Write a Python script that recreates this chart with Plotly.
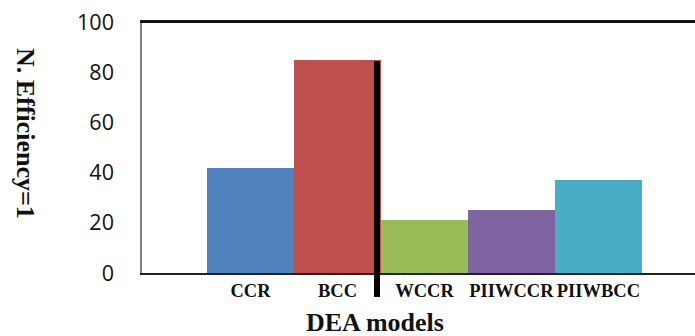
import plotly.graph_objects as go

categories = ["CCR", "BCC", "WCCR", "PIIWCCR", "PIIWBCC"]
values = [42, 85, 21, 25, 37]
colors = ["#4F81BD", "#C0504D", "#9BBB59", "#8064A2", "#4BACC6"]
y_ticks = [0, 20, 40, 60, 80, 100]

fig = go.Figure()
fig.add_trace(go.Bar(
    x=categories, y=values, marker=dict(color=colors, line=dict(width=0)),
    width=1.0, showlegend=False,
))

serif = "Liberation Serif, Times New Roman, serif"
sans = "Open Sans, Liberation Sans, sans-serif"

fig.update_layout(
    width=695, height=336,
    margin=dict(l=142, r=0, t=22, b=63, autoexpand=False),
    paper_bgcolor="white", plot_bgcolor="white",
    bargap=0,
    xaxis=dict(
        range=[-1.247, 5.11], showline=True, linecolor="#222222", linewidth=2,
        mirror=True, showgrid=False, zeroline=False, ticks="", automargin=False,
        tickfont=dict(family=serif, size=18.5, color="#111111", weight="bold"),
        ticklabelstandoff=0, ticklabeloverflow="allow",
    ),
    yaxis=dict(
        range=[0, 100], tickvals=y_ticks, showline=True, linecolor="#7f7f7f",
        linewidth=1.5, showgrid=False, zeroline=False, ticks="", automargin=False,
        tickfont=dict(family=sans, size=21.5, color="#111111"),
        ticklabelstandoff=22, ticklabeloverflow="allow",
    ),
    annotations=[
        dict(text="<b>N. Efficiency=1</b>", xref="paper", yref="paper",
             x=-0.2116, y=0.554, xanchor="center", yanchor="middle",
             textangle=90, showarrow=False,
             font=dict(family=serif, size=26, color="#111111")),
        dict(text="<b>DEA models</b>", xref="paper", yref="paper",
             x=0.421, y=-0.199, xanchor="center", yanchor="middle",
             showarrow=False,
             font=dict(family=serif, size=26, color="#111111")),
    ],
    shapes=[
        dict(type="rect", xref="paper", yref="paper", x0=-0.003, x1=1,
             y0=0.996, y1=1.006,
             fillcolor="#111111", line=dict(width=0), layer="above"),
        dict(type="rect", xref="paper", yref="paper", x0=0.4195, x1=0.4304,
             y0=-0.0956, y1=0.8446,
             fillcolor="black", line=dict(width=0), layer="above"),
    ],
)

fig.write_html(
    "out.html",
    config={"displayModeBar": False},
    post_script="document.body.style.margin='0';document.body.style.overflow='hidden';",
)
